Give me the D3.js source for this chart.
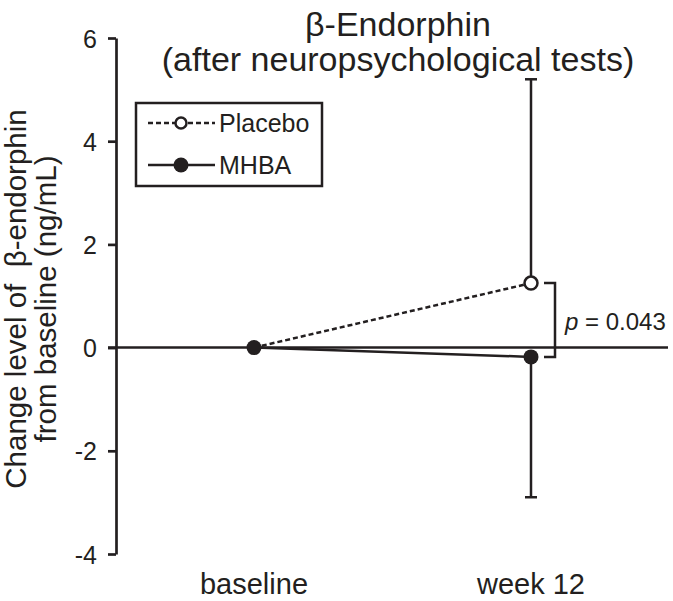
<!DOCTYPE html>
<html><head><meta charset="utf-8">
<script src="https://cdn.jsdelivr.net/npm/d3@7"></script>
<style>body{margin:0;background:#fff}svg{display:block}text{font-family:"Liberation Sans",Arial,sans-serif;fill:#231f20;white-space:pre}</style>
</head><body>
<script>
const categories = ["baseline", "week 12"];
const placebo = [0, 1.25];
const mhba = [0, -0.18];
const placeboErrUp = [0, 3.95];
const mhbaErrDown = [0, 2.72];
const yTicks = [-4, -2, 0, 2, 4, 6];
const titleLines = ["β-Endorphin", "(after neuropsychological tests)"];
const yLabelLines = ["Change level of  β-endorphin", "from baseline (ng/mL)"];
const pText = "0.043";

const W = 673, H = 601, ink = "#231f20";
const svg = d3.select("body").append("svg").attr("width", W).attr("height", H);

const y = d3.scaleLinear().domain([-4, 6]).range([554, 38]);
const x = d3.scalePoint().domain(categories).range([254, 531]);
const axisX = 116;

// y axis
const ya = svg.append("g").attr("transform", `translate(${axisX},0)`)
  .call(d3.axisLeft(y).tickValues(yTicks).tickFormat(d => String(d)).tickSize(8).tickPadding(11).tickSizeOuter(0));
ya.select(".domain").attr("stroke", ink).attr("stroke-width", 2.7);
ya.selectAll(".tick line").attr("stroke", ink).attr("stroke-width", 2.7);
ya.selectAll(".tick text").attr("font-size", 25).attr("fill", ink).attr("dy", "0.36em")
  .style("font-family", "Liberation Sans, Arial, sans-serif");

// zero line
svg.append("line").attr("x1", axisX - 8).attr("x2", 668).attr("y1", y(0)).attr("y2", y(0))
  .attr("stroke", ink).attr("stroke-width", 2.5);

// x labels
svg.selectAll(".xl").data(categories).enter().append("text")
  .attr("x", d => x(d)).attr("y", 594).attr("text-anchor", "middle")
  .attr("font-size", 29).text(d => d);

// title
svg.selectAll(".tt").data(titleLines).enter().append("text")
  .attr("x", 398).attr("y", (d, i) => 36 + i * 35).attr("text-anchor", "middle")
  .attr("font-size", 34).text(d => d);

// y label
svg.selectAll(".yl").data(yLabelLines).enter().append("text")
  .attr("transform", (d, i) => `translate(${26 + i * 30},${299}) rotate(-90)`)
  .attr("text-anchor", "middle").attr("font-size", 29.5).text(d => d);

// error bars
const w12 = categories[1];
function errBar(v0, v1) {
  const cx = x(w12);
  svg.append("line").attr("x1", cx).attr("x2", cx).attr("y1", y(v0)).attr("y2", y(v1))
    .attr("stroke", ink).attr("stroke-width", 2.5);
  svg.append("line").attr("x1", cx - 6).attr("x2", cx + 6).attr("y1", y(v1)).attr("y2", y(v1))
    .attr("stroke", ink).attr("stroke-width", 2.5);
}
errBar(placebo[1], placebo[1] + placeboErrUp[1]);
errBar(mhba[1], mhba[1] - mhbaErrDown[1]);

const line = d3.line().x((d, i) => x(categories[i])).y(d => y(d));
svg.append("path").attr("d", line(mhba)).attr("fill", "none").attr("stroke", ink).attr("stroke-width", 2.5);
svg.append("path").attr("d", line(placebo)).attr("fill", "none").attr("stroke", ink)
  .attr("stroke-width", 2.5).attr("stroke-dasharray", "5,3");

svg.selectAll(".pm").data(mhba).enter().append("circle")
  .attr("cx", (d, i) => x(categories[i])).attr("cy", d => y(d)).attr("r", 7.5).attr("fill", ink);
svg.append("circle").attr("cx", x(w12)).attr("cy", y(placebo[1])).attr("r", 6.5)
  .attr("fill", "#fff").attr("stroke", ink).attr("stroke-width", 2.5);

// significance bracket
const bx = 555;
svg.append("path")
  .attr("d", `M${bx - 11},${y(placebo[1])}H${bx}V${y(mhba[1])}H${bx - 11}`)
  .attr("fill", "none").attr("stroke", ink).attr("stroke-width", 2.5);
const pt = svg.append("text").attr("x", 565).attr("y", 330).attr("font-size", 24);
pt.append("tspan").attr("font-style", "italic").text("p");
pt.append("tspan").text(" = " + pText);

// legend
svg.append("rect").attr("x", 136).attr("y", 103).attr("width", 186).attr("height", 83)
  .attr("fill", "none").attr("stroke", ink).attr("stroke-width", 2.5);
const leg = [{name: "Placebo", dash: "5,3", fill: "#fff", r: 5.5}, {name: "MHBA", dash: null, fill: ink, r: 7.5}];
leg.forEach((d, i) => {
  const ly = 123 + i * 42;
  svg.append("line").attr("x1", 148).attr("x2", 215).attr("y1", ly).attr("y2", ly)
    .attr("stroke", ink).attr("stroke-width", 2.5).attr("stroke-dasharray", d.dash);
  svg.append("circle").attr("cx", 181).attr("cy", ly).attr("r", d.r)
    .attr("fill", d.fill).attr("stroke", ink).attr("stroke-width", d.fill === ink ? 0 : 2.5);
  svg.append("text").attr("x", 219).attr("y", ly + 9).attr("font-size", 25).text(d.name);
});
</script>
</body></html>
